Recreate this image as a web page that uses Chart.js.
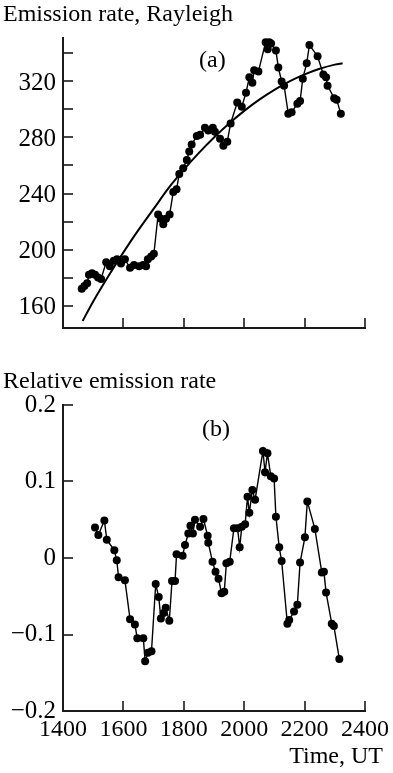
<!DOCTYPE html>
<html><head><meta charset="utf-8">
<script src="https://cdn.jsdelivr.net/npm/chart.js@4/dist/chart.umd.min.js"></script>
<style>
html,body{margin:0;padding:0;background:#fff;}
body{width:393px;height:773px;position:relative;overflow:hidden;font-family:"Liberation Serif","Times New Roman",serif;color:#000;}
.t{position:absolute;font-size:24px;line-height:24px;white-space:nowrap;}
#ca{position:absolute;left:0;top:0;}
#cb{position:absolute;left:0;top:360px;}
</style></head><body>
<canvas id="ca" width="393" height="350"></canvas>
<canvas id="cb" width="393" height="413"></canvas>
<div class="t" style="left:3px;top:1px">Emission rate, Rayleigh</div>
<div class="t" style="left:199px;top:47px">(a)</div>
<div class="t" style="left:3px;top:368px">Relative emission rate</div>
<div class="t" style="left:202px;top:416px">(b)</div>
<div class="t" style="right:10px;top:743px">Time, UT</div>
<script>
// Panel (a): emission rate, Rayleigh
const timeA = [1462,1471,1480,1486,1496,1506,1516,1526,1543,1555,1568,1579,1592,1605,1622,1635,1652,1665,1675,1681,1692,1701,1715,1724,1732,1741,1753,1765,1776,1785,1798,1810,1818,1826,1843,1854,1870,1881,1896,1903,1920,1931,1944,1955,1977,1992,2006,2017,2027,2033,2047,2071,2078,2083,2089,2105,2113,2124,2132,2146,2157,2176,2185,2194,2207,2216,2243,2262,2271,2276,2298,2306,2320];
const rateA = [172,174,176,182,183,182,180,179,191,188,192,193,190,193,187,189,188,189,188,193,195,197,225,222,218,222,225,241,243,254,258,264,270,275,281,282,287,285,287,284,279,274,277,290,305,302,312,323,319,328,327,348,343,348,347,342,330,320,317,297,298,304,306,322,333,346,338,325,323,317,308,307,297];
// Smooth fitted curve
const fitTime = [1465,1500,1550,1600,1650,1700,1750,1800,1850,1900,1950,2000,2050,2100,2150,2200,2250,2300,2326];
const fitRate = [149,163,181,198,214,229,244,257,269,280,290,299,307,314,320,325,329,332,333];
// Panel (b): relative emission rate
const timeB = [1506,1517,1537,1545,1570,1578,1584,1605,1622,1638,1646,1666,1672,1681,1693,1707,1717,1724,1733,1740,1752,1761,1771,1776,1796,1804,1815,1822,1830,1837,1854,1865,1879,1881,1895,1905,1915,1925,1934,1941,1952,1966,1978,1985,1992,2003,2011,2017,2027,2036,2062,2069,2077,2088,2099,2105,2116,2124,2143,2149,2165,2176,2185,2201,2209,2234,2257,2264,2271,2290,2297,2315];
const relB = [0.040,0.030,0.049,0.024,0.010,-0.003,-0.025,-0.029,-0.080,-0.087,-0.105,-0.105,-0.135,-0.124,-0.122,-0.034,-0.051,-0.079,-0.072,-0.065,-0.082,-0.030,-0.030,0.005,0.003,0.017,0.032,0.042,0.032,0.050,0.041,0.051,0.029,0.020,-0.005,-0.018,-0.027,-0.046,-0.044,-0.007,-0.005,0.039,0.039,0.014,0.041,0.044,0.080,0.059,0.089,0.076,0.140,0.112,0.137,0.107,0.104,0.054,0.014,-0.004,-0.086,-0.081,-0.070,-0.061,-0.006,0.027,0.074,0.038,-0.019,-0.018,-0.045,-0.086,-0.089,-0.132];
const xTicks = [1400,1600,1800,2000,2200,2400];

const FONTX = {family:'"Liberation Serif","Times New Roman",serif', size:24};
const FONTY = {family:'"Liberation Serif","Times New Roman",serif', size:25};
const AX = '#1a1a1a';

const innerTicks = {
  id:'innerTicks',
  afterDraw(chart){
    const {ctx, chartArea:a, scales:{x,y}} = chart;
    const L = 10;
    ctx.save(); ctx.strokeStyle = AX; ctx.lineWidth = 1.6;
    for (const t of x.ticks){
      const px = Math.round(x.getPixelForValue(t.value));
      if (Math.abs(px - a.left) < 2) continue;
      ctx.beginPath(); ctx.moveTo(px, a.bottom); ctx.lineTo(px, a.bottom - L); ctx.stroke();
    }
    for (const t of y.ticks){
      const py = Math.round(y.getPixelForValue(t.value));
      if (Math.abs(py - a.bottom) < 2) continue;
      ctx.beginPath(); ctx.moveTo(a.left, py); ctx.lineTo(a.left + L, py); ctx.stroke();
    }
    ctx.restore();
  }
};

function pts(xs, ys){ return xs.map((v,i)=>({x:v, y:ys[i]})); }

function makeChart(id, datasets, yopts, topPad, bottomH, showX){
  return new Chart(document.getElementById(id), {
    type:'line',
    data:{datasets},
    options:{
      responsive:false, animation:false, devicePixelRatio:1,
      layout:{padding:{top:topPad, right:28, left:0, bottom:0}},
      plugins:{legend:{display:false}, tooltip:{enabled:false}},
      scales:{
        x:{type:'linear', min:1400, max:2400,
           afterBuildTicks:s=>{ s.ticks = xTicks.map(v=>({value:v})); },
           afterFit:s=>{ s.height = bottomH; },
           grid:{display:false, drawTicks:false}, border:{display:true, color:AX, width:2},
           ticks:{display:showX, font:FONTX, color:'#000', padding:4, maxRotation:0, autoSkip:false,
                  callback:v=>String(v)}},
        y:Object.assign({type:'linear',
           afterFit:s=>{ s.width = 63; },
           grid:{display:false, drawTicks:false}, border:{display:true, color:AX, width:2}}, yopts)
      }
    },
    plugins:[innerTicks]
  });
}

const dotStyle = {borderColor:'#000', backgroundColor:'#000', borderWidth:1.4,
  pointRadius:4, pointBackgroundColor:'#000', pointBorderColor:'#000', pointBorderWidth:0, tension:0};

makeChart('ca', [
  Object.assign({data:pts(timeA, rateA)}, dotStyle),
  {data:pts(fitTime, fitRate), borderColor:'#000', borderWidth:2, pointRadius:0, tension:0.4, cubicInterpolationMode:'monotone'}
], {min:144, max:351,
    ticks:{stepSize:20, includeBounds:false, font:FONTY, color:'#000', padding:7, labelOffset:2,
           callback:v=>{ const r=Math.round(v); return r%40===0 ? String(r) : ''; }}},
  38, 6, false);

makeChart('cb', [
  Object.assign({data:pts(timeB, relB)}, dotStyle)
], {min:-0.2, max:0.2,
    ticks:{stepSize:0.1, font:FONTY, color:'#000', padding:7, labelOffset:0,
           callback:v=>{ const r=Math.round(v*10)/10; if(r===0) return '0'; return (r<0?'\u2212':'')+Math.abs(r).toFixed(1); }}},
  45, 62, true);
</script>
</body></html>
